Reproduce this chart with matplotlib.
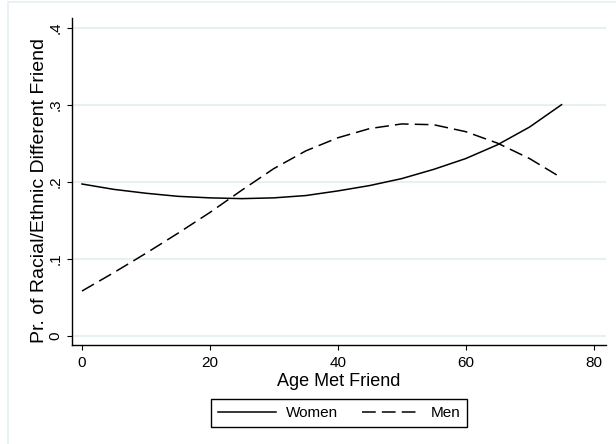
import matplotlib.pyplot as plt
from matplotlib.lines import Line2D
from matplotlib.patches import Rectangle

plt.rcParams['font.family'] = ['Liberation Sans', 'DejaVu Sans']

# predicted probabilities by age the friend was met
age = [0, 5, 10, 15, 20, 25, 30, 35, 40, 45, 50, 55, 60, 65, 70, 75]
women = [0.197, 0.190, 0.185, 0.181, 0.179, 0.178, 0.179, 0.182, 0.188,
         0.195, 0.204, 0.216, 0.230, 0.248, 0.271, 0.300]
men = [0.058, 0.082, 0.107, 0.133, 0.160, 0.189, 0.217, 0.240, 0.257,
       0.269, 0.275, 0.274, 0.265, 0.250, 0.230, 0.205]

xticks = [0, 20, 40, 60, 80]
yticks = [0, 0.1, 0.2, 0.3, 0.4]
ytick_labels = ['0', '.1', '.2', '.3', '.4']

grid_col = '#e8f0f3'
dash = (9, 4)

fig = plt.figure(figsize=(6.16, 4.44), dpi=100)
fig.patches.append(Rectangle((8 / 616, -0.1), 1.2, 1 - 2 / 444 + 0.1,
                             transform=fig.transFigure, fill=False,
                             edgecolor=grid_col, linewidth=1.2))

ax = fig.add_axes([72 / 616, 1 - 345 / 444, 534 / 616, 327 / 444])

ax.plot(age, women, color='black', linewidth=1.1, label='Women')
ax.plot(age, men, color='black', linewidth=1.1, dashes=dash, label='Men')

ax.set_xlim(-1.56, 81.95)
ax.set_ylim(-0.0121, 0.4126)
ax.set_xticks(xticks)
ax.set_yticks(yticks)
ax.set_yticklabels(ytick_labels, rotation=90, va='center')
ax.tick_params(direction='out', length=3.8, width=0.8, labelsize=11)
ax.tick_params(axis='x', pad=4)
ax.tick_params(axis='y', pad=3)

for y in yticks:
    ax.axhline(y, color=grid_col, linewidth=1.5, zorder=0)

for side in ['top', 'right']:
    ax.spines[side].set_visible(False)
for side in ['left', 'bottom']:
    ax.spines[side].set_linewidth(1.0)

ax.set_xlabel('Age Met Friend', fontsize=13)
ax.xaxis.set_label_coords(0.5, -0.085)
ax.set_ylabel('Pr. of Racial/Ethnic Different Friend', fontsize=14)
ax.yaxis.set_label_coords(-0.045, 0.471)

handles = [Line2D([], [], color='black', linewidth=1.1),
           Line2D([], [], color='black', linewidth=1.1, dashes=dash)]
fig.legend(handles, ['Women', 'Men'], loc='center',
           bbox_to_anchor=(339 / 616, 1 - 413.3 / 444), ncol=2,
           fontsize=11, frameon=True, fancybox=False, edgecolor='black',
           handlelength=3.8, handletextpad=0.65, columnspacing=1.6,
           borderpad=0.45, framealpha=1)
fig.legends[0].get_frame().set_linewidth(1.0)

fig.savefig('out.png', dpi=100)
